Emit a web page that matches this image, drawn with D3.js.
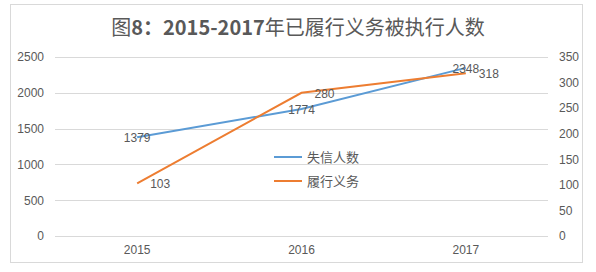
<!DOCTYPE html>
<html lang="zh">
<head>
<meta charset="UTF-8">
<title>图8</title>
<script src="https://d3js.org/d3.v7.min.js"></script>
<style>
  body { margin: 0; background: #fff; }
  text { font-family: "Liberation Sans", Arial, "Noto Sans CJK SC", sans-serif; fill: #595959; }
</style>
</head>
<body>
<script>
// data
const years = ["2015", "2016", "2017"];
const dishonest = [1379, 1774, 2348];   // 失信人数 (left axis)
const fulfilled = [103, 280, 318];      // 履行义务 (right axis)
const leftTicks = [0, 500, 1000, 1500, 2000, 2500];
const rightTicks = [0, 50, 100, 150, 200, 250, 300, 350];
const seriesNames = ["失信人数", "履行义务"];

const width = 596, height = 272;
const svg = d3.select("body").append("svg")
  .attr("width", width).attr("height", height);

// frame
svg.append("rect")
  .attr("x", 10.5).attr("y", 4.5).attr("width", 572).attr("height", 258)
  .attr("fill", "#fff").attr("stroke", "#d9d9d9");

// title
const title = svg.append("text")
  .attr("x", 298).attr("y", 35).attr("text-anchor", "middle")
  .style("font-size", "20px")
  .style("font-family", "\"Noto Sans CJK SC\", sans-serif");
title.append("tspan").text("图");
title.append("tspan").style("font-weight", "bold").text("8：2015-2017");
title.append("tspan").text("年已履行义务被执行人数");

// scales
const x = d3.scaleBand().domain(years).range([55, 548]);
const yL = d3.scaleLinear().domain([0, 2500]).range([236, 57]);
const yR = d3.scaleLinear().domain([0, 350]).range([236, 57]);
const cx = d => x(d) + x.bandwidth() / 2;

// gridlines
svg.append("g").selectAll("line").data(leftTicks).join("line")
  .attr("x1", 55).attr("x2", 548)
  .attr("y1", d => Math.round(yL(d)) + 0.5).attr("y2", d => Math.round(yL(d)) + 0.5)
  .attr("stroke", "#d9d9d9");

// left axis
const axL = svg.append("g").attr("transform", "translate(44,0)")
  .call(d3.axisLeft(yL).tickValues(leftTicks).tickFormat(d3.format("d")).tickSize(0).tickPadding(0));
axL.select(".domain").remove();
axL.selectAll("text").style("font-size", "12px").attr("fill", "#595959");

// right axis
const axR = svg.append("g").attr("transform", "translate(559,0)")
  .call(d3.axisRight(yR).tickValues(rightTicks).tickFormat(d3.format("d")).tickSize(0).tickPadding(0));
axR.select(".domain").remove();
axR.selectAll("text").style("font-size", "12px").attr("fill", "#595959");

// bottom axis
const axB = svg.append("g").attr("transform", "translate(0,245)")
  .call(d3.axisBottom(x).tickSize(0).tickPadding(0));
axB.select(".domain").remove();
axB.selectAll("text").style("font-size", "12px").attr("fill", "#595959");

// lines
const blue = "#5b9bd5", orange = "#ed7d31";
const lineL = d3.line().x((d, i) => cx(years[i])).y(d => yL(d));
const lineR = d3.line().x((d, i) => cx(years[i])).y(d => yR(d));

svg.append("path").datum(dishonest).attr("d", lineL)
  .attr("fill", "none").attr("stroke", blue).attr("stroke-width", 2);
svg.append("path").datum(fulfilled).attr("d", lineR)
  .attr("fill", "none").attr("stroke", orange).attr("stroke-width", 2);

// data labels
svg.append("g").selectAll("text").data(dishonest).join("text")
  .attr("x", (d, i) => cx(years[i])).attr("y", d => yL(d) + 5)
  .attr("text-anchor", "middle").style("font-size", "12px")
  .text(d => d);
svg.append("g").selectAll("text").data(fulfilled).join("text")
  .attr("x", (d, i) => cx(years[i]) + 13).attr("y", d => yR(d) + 5)
  .style("font-size", "12px")
  .text(d => d);

// legend
const legend = svg.append("g");
[blue, orange].forEach((c, i) => {
  const ly = 157 + i * 24;
  legend.append("line").attr("x1", 274).attr("x2", 302)
    .attr("y1", ly).attr("y2", ly).attr("stroke", c).attr("stroke-width", 2);
  legend.append("text").attr("x", 307).attr("y", ly + 5)
    .style("font-size", "13px")
    .style("font-family", "\"Noto Sans CJK SC\", sans-serif")
    .text(seriesNames[i]);
});
</script>
</body>
</html>
